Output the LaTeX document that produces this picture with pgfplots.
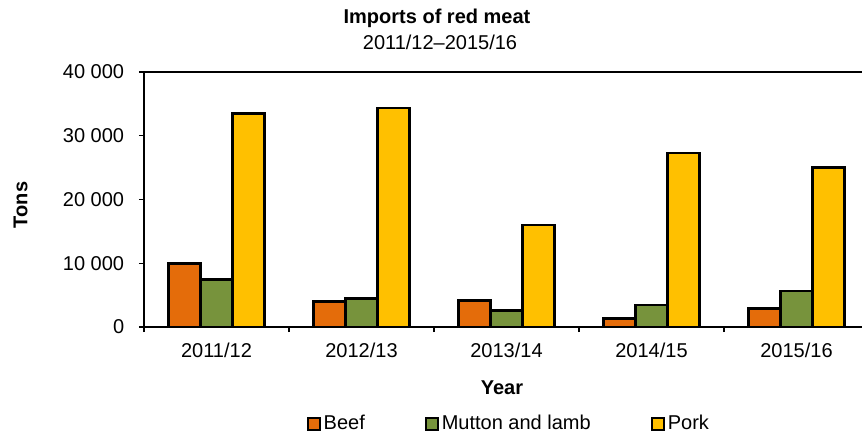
\documentclass[border=0pt]{standalone}
\usepackage{pgfplots}
\pgfplotsset{compat=1.18}
\usepackage{fontspec}
\setmainfont{Liberation Sans}
\definecolor{beef}{HTML}{E46C0A}
\definecolor{mutton}{HTML}{77933C}
\definecolor{pork}{HTML}{FFC000}
\newcommand{\fs}{\fontsize{20}{24}\selectfont}
\pgfplotstableread{
x beef mutton pork
0 9950 7420 33460
1 3970 4490 34350
2 4180 2610 16000
3 1350 3450 27340
4 2920 5690 24990
}\meat
\begin{document}
\fs
\begin{tikzpicture}[x=1pt,y=1pt]
\path[use as bounding box] (-144,-109) rectangle (718,327);
\begin{axis}[
  at={(0,0)}, anchor=south west, scale only axis,
  width=725pt, height=255pt,
  ybar=0pt, bar width=32pt,
  xmin=-0.5, xmax=4.5, ymin=0, ymax=40000,
  xtick={-0.5,0.5,1.5,2.5,3.5,4.5},
  x tick label as interval,
  xticklabels={2011/12,2012/13,2013/14,2014/15,2015/16},
  ytick={0,10000,20000,30000,40000},
  yticklabels={0,10 000,20 000,30 000,40 000},
  scaled y ticks=false,
  xtick pos=bottom, ytick pos=left,
  tick align=outside, major tick length=5pt,
  axis line style={line width=1.6pt},
  every tick/.style={black, line width=1.1pt},
  tick label style={font=\fs},
  xticklabel style={yshift=-4pt},
  yticklabel style={xshift=-8pt},
  legend columns=3,
  legend style={draw=none, fill=none, font=\fs, at={(0.2248,-0.38)}, anchor=west,
    inner sep=0pt, nodes={inner sep=2.5pt},
    /tikz/every odd column/.append style={column sep=0pt},
    /tikz/every even column/.append style={column sep=58pt}},
]
\addplot[fill=beef, draw=black, line width=2.4pt,
  legend image code/.code={\draw[fill=beef,draw=black,line width=2pt] (0pt,-6pt) rectangle (12pt,6pt);}]
  table[x=x,y=beef]{\meat};
\addplot[fill=mutton, draw=black, line width=2.4pt,
  legend image code/.code={\draw[fill=mutton,draw=black,line width=2pt] (0pt,-6pt) rectangle (12pt,6pt);}]
  table[x=x,y=mutton]{\meat};
\addplot[fill=pork, draw=black, line width=2.4pt,
  legend image code/.code={\draw[fill=pork,draw=black,line width=2pt] (0pt,-6pt) rectangle (12pt,6pt);}]
  table[x=x,y=pork]{\meat};
\legend{Beef,Mutton and lamb,Pork}
\end{axis}
\node[anchor=base, font=\fs\bfseries] at (293,303) {Imports of red meat};
\node[anchor=base, font=\fs] at (296,277) {2011/12--2015/16};
\node[rotate=90, font=\fs\bfseries] at (-123.5,122) {Tons};
\node[anchor=base, font=\fs\bfseries] at (358,-68) {Year};
\end{tikzpicture}
\end{document}
